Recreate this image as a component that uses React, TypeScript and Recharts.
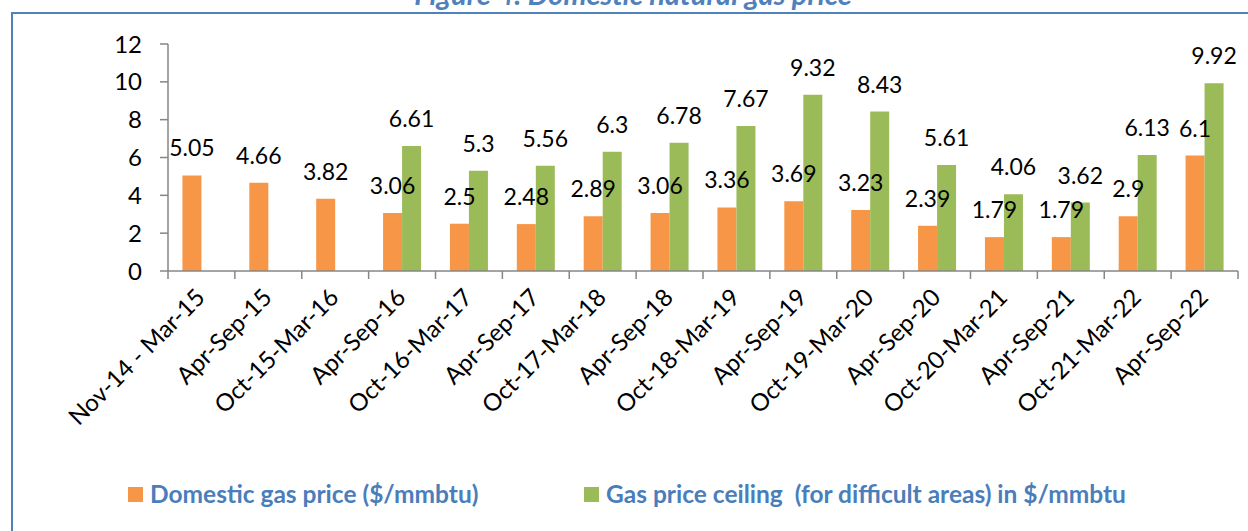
import React from 'react';
import { BarChart, Bar, XAxis, YAxis, LabelList } from 'recharts';

const categories = ['Nov-14 - Mar-15', 'Apr-Sep-15', 'Oct-15-Mar-16', 'Apr-Sep-16', 'Oct-16-Mar-17', 'Apr-Sep-17', 'Oct-17-Mar-18', 'Apr-Sep-18', 'Oct-18-Mar-19', 'Apr-Sep-19', 'Oct-19-Mar-20', 'Apr-Sep-20', 'Oct-20-Mar-21', 'Apr-Sep-21', 'Oct-21-Mar-22', 'Apr-Sep-22'];
const domesticPrice = [5.05, 4.66, 3.82, 3.06, 2.5, 2.48, 2.89, 3.06, 3.36, 3.69, 3.23, 2.39, 1.79, 1.79, 2.9, 6.1];
const ceilingPrice: (number | null)[] = [null, null, null, 6.61, 5.3, 5.56, 6.3, 6.78, 7.67, 9.32, 8.43, 5.61, 4.06, 3.62, 6.13, 9.92];
const yTicks = [0, 2, 4, 6, 8, 10, 12];
const seriesNames = ['Domestic gas price ($/mmbtu)', 'Gas price ceiling  (for difficult areas) in $/mmbtu'];
const seriesColors = ['#F79646', '#9BBB59'];
const titleText = 'Figure 4: Domestic natural gas price';

const data = categories.map((c, i) => ({ period: c, domestic: domesticPrice[i], ceiling: ceilingPrice[i] }));

const W = 1248;
const H = 531;
const MARGIN = { top: 44, right: 10, left: 0, bottom: 0 };
const YW = 168;
const FONT = 'Lato, "Open Sans", sans-serif';
const AXIS = '#868686';

const bandW = (W - MARGIN.left - MARGIN.right - YW) / categories.length;

const XTick = (props: any) => {
  const { x, y, payload, index } = props;
  const left = x - bandW / 2;
  const right = x + bandW / 2;
  const ax = x + 5;
  const ay = y + 28;
  return (
    <g>
      <line x1={left} y1={y} x2={left} y2={y + 8} stroke={AXIS} strokeWidth={1.5} />
      {index === categories.length - 1 && (
        <line x1={right} y1={y} x2={right} y2={y + 8} stroke={AXIS} strokeWidth={1.5} />
      )}
      <text
        x={ax}
        y={ay}
        textAnchor="end"
        transform={`rotate(-45, ${ax}, ${ay})`}
        fontFamily={FONT}
        fontSize={24}
        fill="#000"
      >
        {payload.value}
      </text>
    </g>
  );
};

export default function App() {
  return (
    <div style={{ position: 'absolute', left: 0, top: 0, width: W, height: H, overflow: 'hidden', background: '#fff' }}>
      <svg width={W} height={30} style={{ position: 'absolute', left: 0, top: 0 }}>
        <text x={633} y={5} textAnchor="middle" fontFamily={FONT} fontSize={29} fontWeight="bold" fontStyle="italic" fill="#4F81BD">
          {titleText}
        </text>
      </svg>
      <div style={{ position: 'absolute', left: 11, top: 12, width: W, height: H, borderLeft: '2px solid #4F81BD', borderTop: '2px solid #4F81BD', boxSizing: 'border-box' }} />
      <div style={{ position: 'absolute', left: 0, top: 0 }}>
        <BarChart width={W} height={H} data={data} margin={MARGIN} barCategoryGap="21.6%" barGap={0}>
          <XAxis
            dataKey="period"
            interval={0}
            tickSize={0}
            tickMargin={0}
            tickLine={false}
            tick={<XTick />}
            axisLine={{ stroke: AXIS, strokeWidth: 1.5 }}
            height={260}
          />
          <YAxis
            domain={[0, 12]}
            ticks={yTicks}
            width={YW}
            tickSize={8}
            tickMargin={18}
            interval={0}
            axisLine={{ stroke: AXIS, strokeWidth: 1.5 }}
            tickLine={{ stroke: AXIS, strokeWidth: 1.5 }}
            tick={{ fill: '#000', fontSize: 24, fontFamily: FONT }}
          />
          <Bar dataKey="domestic" fill={seriesColors[0]} isAnimationActive={false}>
            <LabelList dataKey="domestic" position="top" offset={19} fill="#000" fontSize={23} fontFamily={FONT} />
          </Bar>
          <Bar dataKey="ceiling" fill={seriesColors[1]} isAnimationActive={false}>
            <LabelList dataKey="ceiling" position="top" offset={19} fill="#000" fontSize={23} fontFamily={FONT} />
          </Bar>
        </BarChart>
      </div>
      {seriesNames.map((name, i) => (
        <div
          key={name}
          style={{
            position: 'absolute',
            left: i === 0 ? 128 : 584,
            top: 479,
            display: 'flex',
            alignItems: 'center',
            fontFamily: FONT,
            fontWeight: 'bold',
            fontSize: 24.5,
            color: '#4A7EBB',
            whiteSpace: 'pre',
            lineHeight: '30px',
          }}
        >
          <span style={{ display: 'inline-block', width: 15, height: 15, background: seriesColors[i], marginRight: 7 }} />
          <span>{name}</span>
        </div>
      ))}
    </div>
  );
}
